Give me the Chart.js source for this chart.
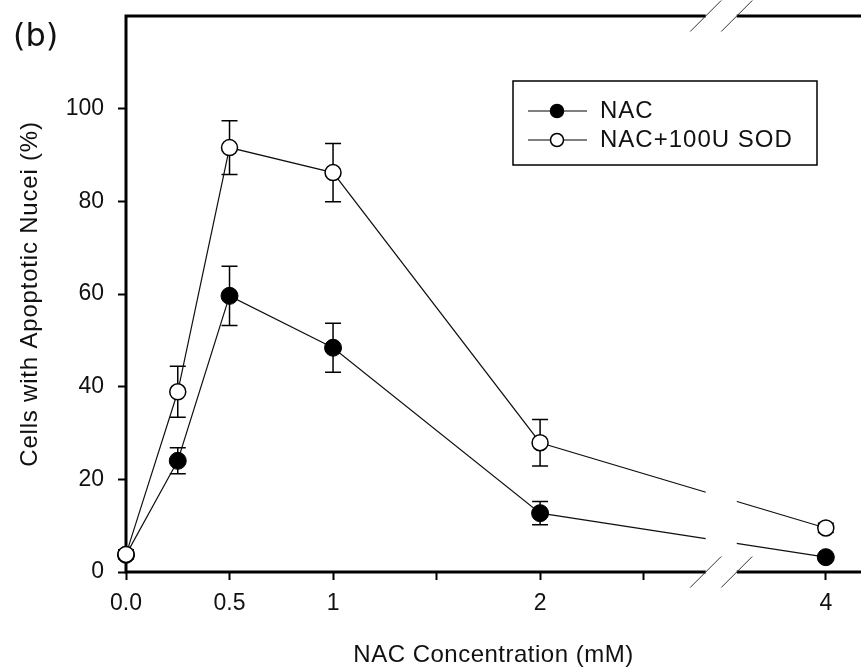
<!DOCTYPE html>
<html>
<head>
<meta charset="utf-8">
<script src="https://cdn.jsdelivr.net/npm/chart.js@4"></script>
<style>
  body { margin: 0; background: #fff; }
  #wrap { width: 861px; height: 670px; }
</style>
</head>
<body>
<div id="wrap"><canvas id="apoptosis-chart"></canvas></div>
<script>
// NAC concentration (mM) and % cells with apoptotic nuclei (mean +/- error)
const concentrations = [0, 0.25, 0.5, 1, 2, 4];
const nacMean = [3.7, 24.0, 59.6, 48.4, 12.7, 3.2];
const nacErr = [0.5, 2.8, 6.4, 5.3, 2.5, 0.5];
const sodMean = [3.8, 38.9, 91.6, 86.2, 27.9, 9.5];
const sodErr = [1.0, 5.5, 5.8, 6.3, 5.0, 1.0];

const xTickValues = [0, 0.5, 1, 1.5, 2, 2.5, 4];
const xTickLabels = ['0.0', '0.5', '1', '', '2', '', '4'];
const yTickValues = [0, 20, 40, 60, 80, 100];

// broken x axis: 2.8 .. 3.57 is cut out and replaced by a small gap
const BREAK_LO = 2.8;
const BREAK_HI = 3.57;
const GAP = 0.15;
function axisPos(v) {
  return v <= BREAK_LO ? v : v - BREAK_HI + BREAK_LO + GAP;
}

const FONT = "'Liberation Sans', Arial, sans-serif";

function points(means) {
  return concentrations.map((c, i) => ({ x: axisPos(c), y: means[i] }));
}

const plotDecor = {
  id: 'plotDecor',
  beforeDatasetsDraw(chart) {
    const { ctx, chartArea: a, scales: { x, y } } = chart;
    const b0 = x.getPixelForValue(BREAK_LO);
    const b1 = x.getPixelForValue(BREAK_LO + GAP);
    ctx.save();
    ctx.strokeStyle = '#000';
    ctx.lineWidth = 3;
    ctx.beginPath();
    ctx.moveTo(a.left, a.top - 1.5);
    ctx.lineTo(a.left, a.bottom + 1.5);
    [a.top, a.bottom].forEach(yy => {
      ctx.moveTo(a.left, yy); ctx.lineTo(b0, yy);
      ctx.moveTo(b1, yy); ctx.lineTo(a.right, yy);
    });
    ctx.stroke();

    // axis break slashes
    ctx.lineWidth = 1;
    ctx.strokeStyle = '#333';
    ctx.beginPath();
    [a.top, a.bottom].forEach(yy => [b0, b1].forEach(bx => {
      ctx.moveTo(bx - 15.5, yy + 15.5);
      ctx.lineTo(bx + 15.5, yy - 15.5);
    }));
    ctx.stroke();

    // error bars with caps
    ctx.strokeStyle = '#000';
    ctx.lineWidth = 1.5;
    ctx.beginPath();
    chart.data.datasets.forEach((ds, i) => {
      chart.getDatasetMeta(i).data.forEach((pt, j) => {
        const v = ds.data[j].y, e = ds.errors[j];
        const t = y.getPixelForValue(v + e), b = y.getPixelForValue(v - e);
        ctx.moveTo(pt.x, t); ctx.lineTo(pt.x, b);
        ctx.moveTo(pt.x - 8, t); ctx.lineTo(pt.x + 8, t);
        ctx.moveTo(pt.x - 8, b); ctx.lineTo(pt.x + 8, b);
      });
    });
    ctx.stroke();
    ctx.restore();

    // keep the connecting lines out of the axis gap
    ctx.save();
    ctx.beginPath();
    ctx.rect(0, 0, b0, chart.height);
    ctx.rect(b1, 0, chart.width - b1, chart.height);
    ctx.clip();
  },
  afterDatasetsDraw(chart) {
    const { ctx, chartArea: a } = chart;
    ctx.restore();

    ctx.save();
    ctx.fillStyle = '#111';
    ctx.textAlign = 'center';
    ctx.textBaseline = 'middle';

    // axis titles
    ctx.font = '24px ' + FONT;
    ctx.letterSpacing = '0.5px';
    ctx.fillText('NAC Concentration (mM)', (a.left + a.right) / 2, 655);
    ctx.save();
    ctx.translate(30, (a.top + a.bottom) / 2);
    ctx.rotate(-Math.PI / 2);
    ctx.letterSpacing = '0.8px';
    ctx.fillText('Cells with Apoptotic Nucei (%)', 0, 0);
    ctx.restore();

    // panel letter
    ctx.letterSpacing = '0px';
    ctx.textAlign = 'left';
    ctx.font = "32px 'DejaVu Sans', sans-serif";
    ctx.fillText('(b)', 13, 38);

    // legend
    const lx = 513, ly = 81, lw = 304, lh = 84;
    ctx.strokeStyle = '#000';
    ctx.lineWidth = 1.5;
    ctx.strokeRect(lx, ly, lw, lh);
    ctx.font = '24px ' + FONT;
    ctx.letterSpacing = '1px';
    chart.data.datasets.forEach((ds, i) => {
      const ry = 111 + i * 29;
      ctx.beginPath();
      ctx.lineWidth = 1.2;
      ctx.moveTo(528, ry); ctx.lineTo(587, ry);
      ctx.stroke();
      ctx.beginPath();
      ctx.arc(557, ry, 6.5, 0, Math.PI * 2);
      ctx.fillStyle = ds.pointBackgroundColor;
      ctx.fill();
      ctx.lineWidth = 1.5;
      ctx.stroke();
      ctx.fillStyle = '#111';
      ctx.fillText(ds.label, 600, ry);
    });
    ctx.restore();
  }
};

const config = {
  type: 'line',
  data: {
    datasets: [
      {
        label: 'NAC',
        data: points(nacMean),
        errors: nacErr,
        borderColor: '#111',
        borderWidth: 1.2,
        pointRadius: 8.5,
        pointBackgroundColor: '#000',
        pointBorderColor: '#000',
        pointBorderWidth: 1,
        tension: 0,
        clip: false,
        order: 1
      },
      {
        label: 'NAC+100U SOD',
        data: points(sodMean),
        errors: sodErr,
        borderColor: '#111',
        borderWidth: 1.2,
        pointRadius: 8,
        pointBackgroundColor: '#fff',
        pointBorderColor: '#000',
        pointBorderWidth: 1.5,
        tension: 0,
        clip: false,
        order: 0
      }
    ]
  },
  options: {
    responsive: true,
    maintainAspectRatio: false,
    animation: false,
    layout: { autoPadding: false, padding: { top: 16, right: 0, bottom: 0, left: 0 } },
    plugins: {
      legend: { display: false },
      tooltip: { enabled: false }
    },
    scales: {
      x: {
        type: 'linear',
        min: 0,
        max: 3.55,
        border: { display: false },
        grid: {
          drawOnChartArea: false,
          drawTicks: true,
          tickLength: 8,
          tickWidth: 2,
          color: '#000'
        },
        afterBuildTicks: scale => {
          scale.ticks = xTickValues.map(v => ({ value: axisPos(v) }));
        },
        afterFit: scale => {
          scale.height = 98;
          scale.paddingLeft = 0;
          scale.paddingRight = 0;
        },
        ticks: {
          autoSkip: false,
          maxRotation: 0,
          padding: 10,
          color: '#111',
          font: { family: FONT, size: 23 },
          callback: (value, index) => xTickLabels[index]
        }
      },
      y: {
        type: 'linear',
        min: 0,
        max: 120,
        border: { display: false },
        grid: {
          drawOnChartArea: false,
          drawTicks: true,
          tickLength: 8,
          tickWidth: 2,
          color: '#000'
        },
        afterBuildTicks: scale => {
          scale.ticks = yTickValues.map(v => ({ value: v }));
        },
        afterFit: scale => {
          scale.width = 126;
          scale.paddingTop = 0;
          scale.paddingBottom = 0;
        },
        ticks: {
          padding: 14,
          color: '#111',
          font: { family: FONT, size: 23 }
        }
      }
    }
  },
  plugins: [plotDecor]
};

const ctx = document.getElementById('apoptosis-chart').getContext('2d');
const chart = new Chart(ctx, config);
</script>
</body>
</html>
